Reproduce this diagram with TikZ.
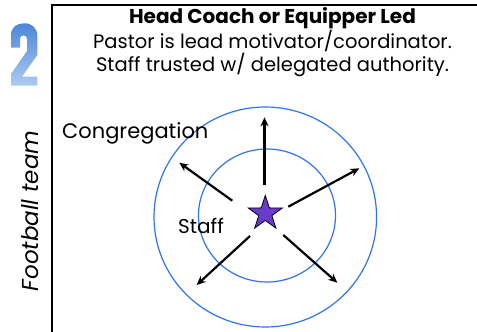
\documentclass[tikz,border=0pt]{standalone}
\usepackage{fontspec}
\setmainfont{Poppins}
\usetikzlibrary{arrows.meta,shapes.geometric}
\definecolor{ringblue}{HTML}{2F74EC}
\definecolor{starpurple}{HTML}{6A3CCB}
\definecolor{numtop}{HTML}{4C86D6}
\definecolor{numbot}{HTML}{ADCBF1}
\tikzset{
  ring/.style={draw=ringblue,line width=1.2pt},
  push/.style={line width=2.2pt,-{Stealth[length=9pt,width=8pt]}},
  label/.style={font=\fontsize{20}{24}\selectfont,inner sep=0pt}
}
\begin{document}
\begin{tikzpicture}[x=1pt,y=1pt]
	    \useasboundingbox (0,0) rectangle (477,332);
	    % frame
	    \draw[line width=1.5pt](477,327)--(52,327)--(52,0);
	    % big number
	    \shade[top color=numtop,bottom color=numbot](11,284.3)--(11,297)
	      .. controls (11,305) and (17,308.7) .. (24.2,308.7)
	      .. controls (32,308.7) and (37.3,304) .. (37.3,296)
	      --(37.3,277)--(22,255.3)--(37.3,255.3)--(37.3,246.3)--(11,246.3)
	      --(11,258)--(27,281)--(27,293)
	      .. controls (27,295.5) and (25.5,296.5) .. (23.5,296.5)
	      .. controls (21.5,296.5) and (20,295.5) .. (20,293)
	      --(20,284.3)--cycle;
	    \node[label,rotate=90,font=\fontsize{23}{24}\itshape] (team) at (30,121) {Football team};
	    % heading
	    \node[label,align=center,font=\fontsize{19.5}{23}\selectfont] (title) at (272.5,290)
	      {{\fontsize{20}{23}\selectfont\bfseries Head Coach or Equipper Led}\\Pastor is lead motivator/coordinator.\\Staff trusted w/ delegated authority.};
	    % rings
	    \draw[ring](265.3,115) ellipse (111.3 and 110);
	    \draw[ring](267,116.5) ellipse (68.5 and 66.5);
	    \node[label,anchor=west,font=\fontsize{21}{24}\selectfont] (cong) at (62,199) {Congregation};
	    \node[label] (staff) at (201,106) {Staff};
	    \node[star,star points=5,star point ratio=2.6,minimum size=36pt,inner sep=0pt,
	      draw=black,fill=starpurple,line width=0.8pt] (pastor) at (265.3,118.5) {};
	    % arrows
	    \coordinate (s1) at (264.5,147);   \coordinate (e1) at (264.5,214.7);
	    \coordinate (s2) at (232.3,131.3); \coordinate (e2) at (179.3,169.3);
	    \coordinate (s3) at (288.3,125.3); \coordinate (e3) at (359.3,163.7);
	    \coordinate (s4) at (250,96);      \coordinate (e4) at (196.7,47);
	    \coordinate (s5) at (283.3,97);    \coordinate (e5) at (337.3,49.3);
	    \foreach \i in {1,...,5}
	      \draw[push](s\i)--(e\i);
	\end{tikzpicture}
\end{document}
